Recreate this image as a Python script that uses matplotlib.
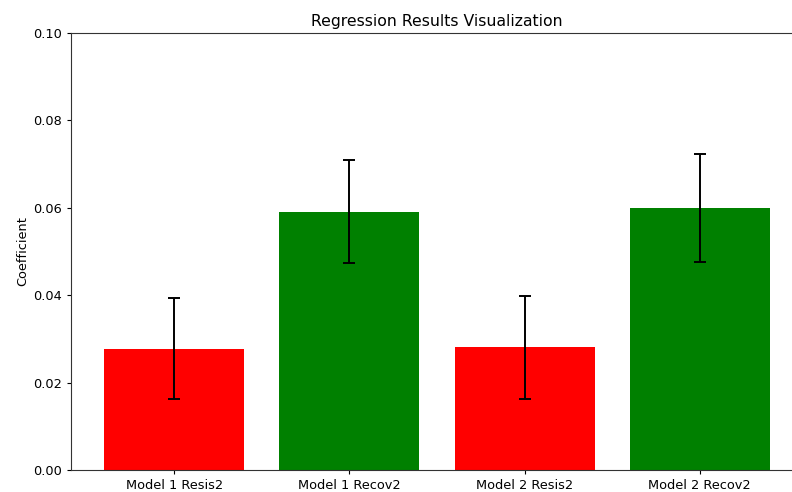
import matplotlib
matplotlib.use("Agg")
import matplotlib.pyplot as plt

# values
labels = ["Model 1 Resis2", "Model 1 Recov2", "Model 2 Resis2", "Model 2 Recov2"]
coefs = [0.0278, 0.0591, 0.0281, 0.0599]
errors = [0.0115, 0.0118, 0.0118, 0.0124]
colors = ["red", "green", "red", "green"]

fig = plt.figure(figsize=(7.92, 4.92), dpi=100)
# the reference is cropped on the right, so the axes run past the figure edge
ax = fig.add_axes([71 / 792, 22 / 492, 732 / 792, 437 / 492])

ax.bar(labels, coefs, yerr=errors, color=colors, capsize=4.5,
       error_kw={"elinewidth": 1.4, "capthick": 1.4})
ax.set_ylim(0, 0.10)
ax.set_yticks([0.0, 0.02, 0.04, 0.06, 0.08, 0.10])
ax.set_ylabel("Coefficient", fontsize=9.3, labelpad=3)
ax.set_title("Regression Results Visualization", fontsize=11.3, pad=5)
ax.tick_params(labelsize=9.3, length=3)
for s in ax.spines.values():
    s.set_color("#333333")

fig.savefig("out.png", dpi=100)
